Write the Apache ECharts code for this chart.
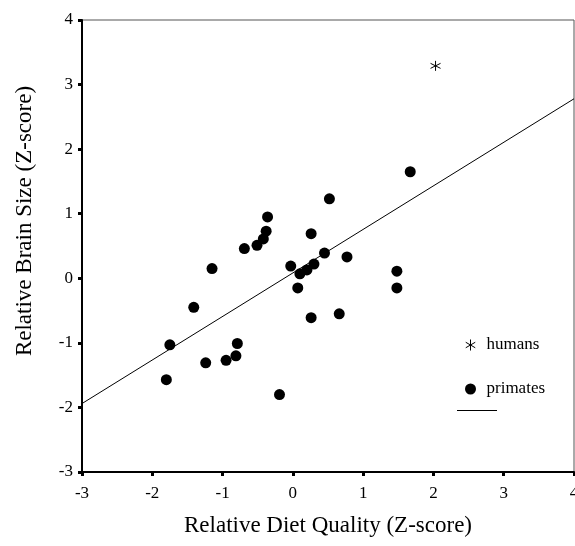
<!DOCTYPE html>
<html>
<head>
<meta charset="utf-8">
<script src="https://cdn.jsdelivr.net/npm/echarts@6/dist/echarts.min.js"></script>
<style>html,body{margin:0;padding:0;background:#fff}#c{width:575px;height:546px}</style>
</head>
<body>
<div id="c"></div>
<script>
// Primate data: relative diet quality (x) vs relative brain size (y), Z-scores
const primatesX = [1.67, 0.52, -0.36, -0.38, -0.42, -0.51, -0.69, 0.26, -1.15, -0.03, 0.45, 0.77, 0.30, 0.20, 0.10, 0.07, 0.26, 0.66, 1.48, 1.48, -1.41, -1.75, -0.79, -0.81, -0.95, -1.24, -1.80, -0.19];
const primatesY = [1.65, 1.23, 0.95, 0.73, 0.61, 0.51, 0.46, 0.69, 0.15, 0.19, 0.39, 0.33, 0.22, 0.13, 0.07, -0.15, -0.61, -0.55, 0.11, -0.15, -0.45, -1.03, -1.01, -1.20, -1.27, -1.31, -1.57, -1.80];
const humansX = [2.03];
const humansY = [3.29];
// Regression line endpoints (primates)
const fitX = [-3, 4];
const fitY = [-1.94, 2.78];
const xTicks = [-3, -2, -1, 0, 1, 2, 3, 4];
const yTicks = [-3, -2, -1, 0, 1, 2, 3, 4];

const FONT = 'Liberation Serif';
const asterisk = 'path://M5 0 L5 10 M0.67 2.5 L9.33 7.5 M0.67 7.5 L9.33 2.5';

const chart = echarts.init(document.getElementById('c'), null, {renderer: 'canvas'});
const axisCommon = {
  type: 'value',
  axisLine: {show: true, onZero: false, lineStyle: {color: '#000', width: 2}},
  axisTick: {show: true, length: 4, lineStyle: {color: '#000', width: 3}},
  splitLine: {show: false},
  axisLabel: {color: '#000', fontFamily: FONT, fontSize: 17},
  nameLocation: 'middle',
  nameTextStyle: {color: '#000', fontFamily: FONT, fontSize: 23}
};
chart.setOption({
  animation: false,
  backgroundColor: '#fff',
  grid: {left: 82, right: 1, top: 20, bottom: 74, show: true, borderColor: '#555', borderWidth: 1,
         containLabel: false, outerBoundsMode: 'none'},
  xAxis: Object.assign({}, axisCommon, {
    min: xTicks[0], max: xTicks[xTicks.length - 1], interval: 1,
    name: 'Relative Diet Quality (Z-score)', nameGap: 42,
    axisLabel: Object.assign({}, axisCommon.axisLabel, {margin: 13})
  }),
  yAxis: Object.assign({}, axisCommon, {
    min: yTicks[0], max: yTicks[yTicks.length - 1], interval: 1,
    name: 'Relative Brain Size (Z-score)', nameGap: 46,
    nameTextStyle: Object.assign({}, axisCommon.nameTextStyle, {padding: [0, 0, 0, 50]}),
    axisLabel: Object.assign({}, axisCommon.axisLabel, {margin: 9})
  }),
  legend: {
    orient: 'vertical', left: 460, top: 330, itemWidth: 22, itemHeight: 11, itemGap: 24,
    textStyle: {color: '#000', fontFamily: FONT, fontSize: 17, lineHeight: 20},
    data: [
      {name: 'humans', icon: asterisk, itemStyle: {color: 'rgba(0,0,0,0)', borderColor: '#000', borderWidth: 1}},
      {name: 'primates', icon: 'circle', itemStyle: {color: '#000', borderWidth: 0}}
    ]
  },
  graphic: [{
    type: 'line', shape: {x1: 457, y1: 410.5, x2: 497, y2: 410.5},
    style: {stroke: '#000', lineWidth: 1}
  }],
  series: [
    {
      name: 'fit', type: 'line', data: fitX.map((x, i) => [x, fitY[i]]),
      symbol: 'none', lineStyle: {color: '#000', width: 1}, z: 1
    },
    {
      name: 'primates', type: 'scatter', data: primatesX.map((x, i) => [x, primatesY[i]]),
      symbol: 'circle', symbolSize: 11, itemStyle: {color: '#000', opacity: 1}, z: 2
    },
    {
      name: 'humans', type: 'scatter', data: humansX.map((x, i) => [x, humansY[i]]),
      symbol: asterisk, symbolSize: 10,
      itemStyle: {color: 'rgba(0,0,0,0)', borderColor: '#000', borderWidth: 1, opacity: 1}, z: 2
    }
  ]
});
</script>
</body>
</html>
